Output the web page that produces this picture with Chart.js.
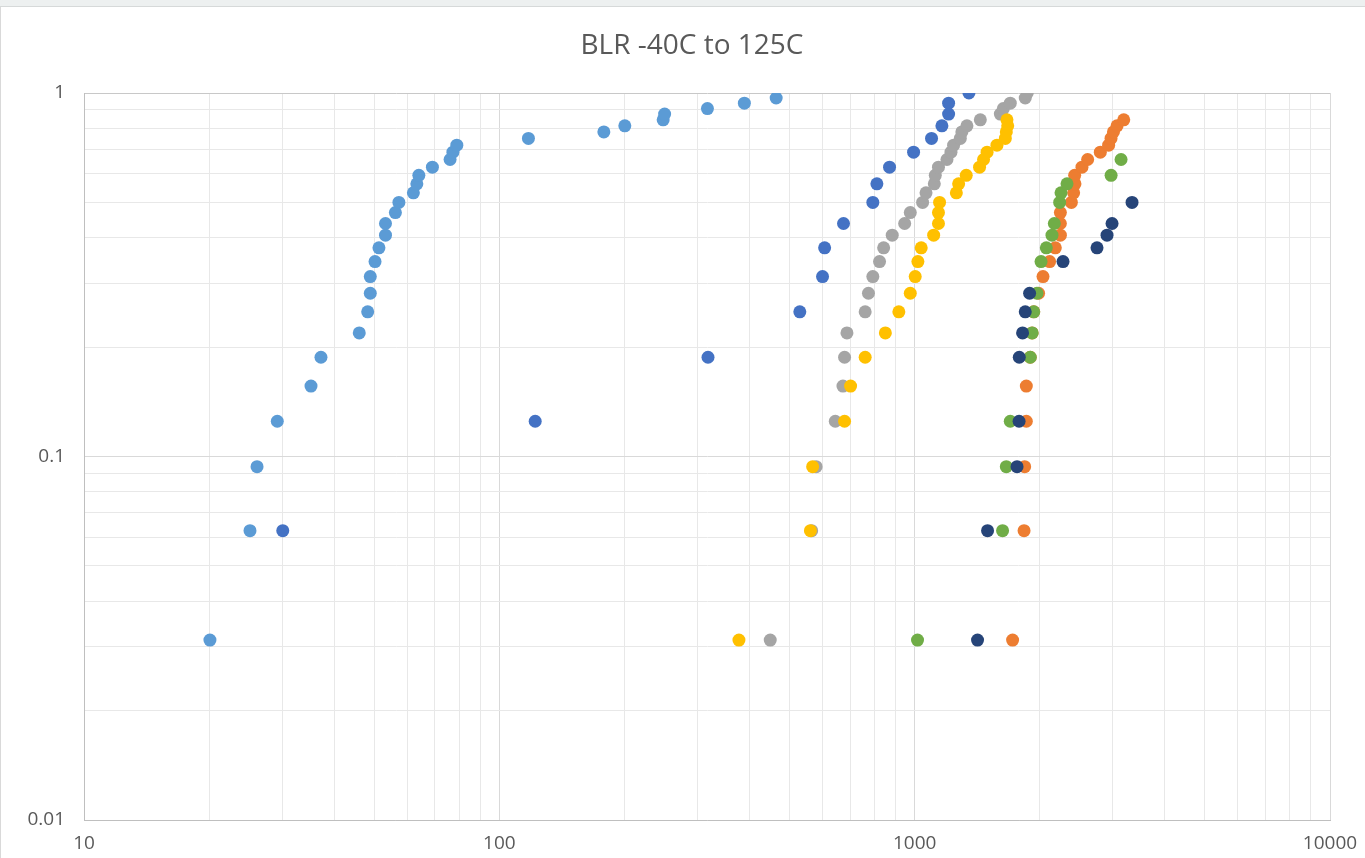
<!DOCTYPE html>
<html>
<head>
<meta charset="utf-8">
<script src="https://cdn.jsdelivr.net/npm/chart.js@4.4.1/dist/chart.umd.min.js"></script>
<style>
html,body{margin:0;padding:0;background:#ffffff;overflow:hidden;}
#wrap{position:absolute;left:0;top:0;width:1365px;height:858px;}
#topbar{position:absolute;left:0;top:0;width:1365px;height:6px;background:#edf0f0;border-bottom:1px solid #d6d9d9;}
#leftbar{position:absolute;left:0;top:7px;width:1px;height:851px;background:#d9d9d9;}
</style>
</head>
<body>
<div id="wrap"><canvas id="c"></canvas></div>
<div id="topbar"></div>
<div id="leftbar"></div>
<script>
// ---- text ----
const chartTitle = 'BLR -40C to 125C';

// ---- axis ticks ----
const xTickLabels = [10, 100, 1000, 10000];
const xMinorTicks = [20, 30, 40, 50, 60, 70, 80, 90, 200, 300, 400, 500, 600, 700, 800, 900, 2000, 3000, 4000, 5000, 6000, 7000, 8000, 9000];
const yTickLabels = [0.01, 0.1, 1];
const yMinorTicks = [0.02, 0.03, 0.04, 0.05, 0.06, 0.07, 0.08, 0.09, 0.2, 0.3, 0.4, 0.5, 0.6, 0.7, 0.8, 0.9];

// ---- series values (x = life, y = cumulative fraction failed) ----
const s1Name = 'Series 1';
const s1X = [30.1, 122, 318, 529, 600, 607, 674, 793, 811, 870, 994, 1098, 1163, 1207, 1207, 1351];
const s1Y = [0.0625, 0.125, 0.1875, 0.25, 0.3125, 0.375, 0.4375, 0.5, 0.5625, 0.625, 0.6875, 0.75, 0.8125, 0.875, 0.9375, 1];

const s2Name = 'Series 2';
const s2X = [1721, 1834, 1840, 1857, 1857, 1898, 1918, 1935, 1988, 2037, 2113, 2181, 2243, 2243, 2243, 2384, 2414, 2432, 2428, 2528, 2609, 2799, 2931, 2970, 3010, 3071, 3187];
const s2Y = [0.03125, 0.0625, 0.09375, 0.125, 0.15625, 0.1875, 0.21875, 0.25, 0.28125, 0.3125, 0.34375, 0.375, 0.40625, 0.4375, 0.46875, 0.5, 0.53125, 0.5625, 0.59375, 0.625, 0.65625, 0.6875, 0.71875, 0.75, 0.78125, 0.8125, 0.84375];

const s3Name = 'Series 3';
const s3X = [449, 565, 579, 644, 672, 678, 687, 760, 774, 793, 823, 842, 883, 946, 976, 1045, 1065, 1115, 1121, 1141, 1196, 1223, 1241, 1288, 1299, 1336, 1439, 1608, 1635, 1699, 1846, 1867];
const s3Y = [0.03125, 0.0625, 0.09375, 0.125, 0.15625, 0.1875, 0.21875, 0.25, 0.28125, 0.3125, 0.34375, 0.375, 0.40625, 0.4375, 0.46875, 0.5, 0.53125, 0.5625, 0.59375, 0.625, 0.65625, 0.6875, 0.71875, 0.75, 0.78125, 0.8125, 0.84375, 0.875, 0.90625, 0.9375, 0.96875, 1];

const s4Name = 'Series 4';
const s4X = [377.5, 561, 568, 678, 701, 760, 850, 916, 976, 1003, 1018, 1037, 1111, 1141, 1141, 1148, 1260, 1276, 1331, 1433, 1465, 1494, 1578, 1653, 1662, 1675, 1668];
const s4Y = [0.03125, 0.0625, 0.09375, 0.125, 0.15625, 0.1875, 0.21875, 0.25, 0.28125, 0.3125, 0.34375, 0.375, 0.40625, 0.4375, 0.46875, 0.5, 0.53125, 0.5625, 0.59375, 0.625, 0.65625, 0.6875, 0.71875, 0.75, 0.78125, 0.8125, 0.84375];

const s5Name = 'Series 5';
const s5X = [20.1, 25.1, 26.1, 29.2, 35.2, 37.2, 46.0, 48.2, 48.9, 48.9, 50.2, 51.3, 53.2, 53.2, 56.2, 57.3, 62.1, 63.3, 64.0, 69.0, 76.1, 77.3, 79.0, 117.5, 178.5, 200.5, 248, 250, 317, 389, 464];
const s5Y = [0.03125, 0.0625, 0.09375, 0.125, 0.15625, 0.1875, 0.21875, 0.25, 0.28125, 0.3125, 0.34375, 0.375, 0.40625, 0.4375, 0.46875, 0.5, 0.53125, 0.5625, 0.59375, 0.625, 0.65625, 0.6875, 0.71875, 0.75, 0.78125, 0.8125, 0.84375, 0.875, 0.90625, 0.9375, 0.96875];

const s6Name = 'Series 6';
const s6X = [1016, 1628, 1662, 1699, 1898, 1918, 1935, 1970, 2015, 2075, 2141, 2169, 2234, 2251, 2327, 2971, 3140];
const s6Y = [0.03125, 0.0625, 0.09375, 0.125, 0.1875, 0.21875, 0.25, 0.28125, 0.34375, 0.375, 0.40625, 0.4375, 0.5, 0.53125, 0.5625, 0.59375, 0.65625];

const s7Name = 'Series 7';
const s7X = [1417, 1498, 1764, 1784, 1786, 1819, 1846, 1891, 2276, 2748, 2905, 2987, 3337];
const s7Y = [0.03125, 0.0625, 0.09375, 0.125, 0.1875, 0.21875, 0.25, 0.28125, 0.34375, 0.375, 0.40625, 0.4375, 0.5];

// ---- styling ----
const FONT = '"Open Sans", "Liberation Sans", Arial, sans-serif';
const TEXT_COLOR = '#595959';
const seriesDefs = [
  {name: s1Name, xs: s1X, ys: s1Y, color: '#4472C4'},
  {name: s2Name, xs: s2X, ys: s2Y, color: '#ED7D31'},
  {name: s3Name, xs: s3X, ys: s3Y, color: '#A5A5A5'},
  {name: s4Name, xs: s4X, ys: s4Y, color: '#FFC000'},
  {name: s5Name, xs: s5X, ys: s5Y, color: '#5B9BD5'},
  {name: s6Name, xs: s6X, ys: s6Y, color: '#70AD47'},
  {name: s7Name, xs: s7X, ys: s7Y, color: '#264478'}
];

const datasets = seriesDefs.map((s, i) => ({
  label: s.name,
  data: s.xs.map((x, j) => ({x: x, y: s.ys[j]})),
  backgroundColor: s.color,
  borderColor: s.color,
  pointRadius: 6.5,
  pointBorderWidth: 0,
  pointHoverRadius: 6.5,
  showLine: false,
  order: -i
}));

const xAllTicks = xTickLabels.concat(xMinorTicks).sort((a, b) => a - b);
const yAllTicks = yTickLabels.concat(yMinorTicks).sort((a, b) => a - b);

Chart.defaults.font.family = FONT;

// chart title drawn as canvas text, centred where the reference places it
const titlePlugin = {
  id: 'centredTitle',
  afterDraw(chart) {
    const ctx = chart.ctx;
    ctx.save();
    ctx.font = '28px ' + FONT;
    ctx.fillStyle = TEXT_COLOR;
    ctx.textAlign = 'center';
    ctx.textBaseline = 'middle';
    ctx.fillText(chartTitle, 692, 46);
    ctx.restore();
  }
};

new Chart(document.getElementById('c'), {
  type: 'scatter',
  data: {datasets: datasets},
  plugins: [titlePlugin],
  options: {
    responsive: true,
    maintainAspectRatio: false,
    animation: false,
    events: [],
    layout: {padding: {top: 93, left: 0, right: 35, bottom: 0}},
    plugins: {
      legend: {display: false},
      tooltip: {enabled: false},
      title: {display: false}
    },
    scales: {
      x: {
        type: 'logarithmic',
        position: 'bottom',
        min: 10,
        max: 10000,
        afterBuildTicks: s => { s.ticks = xAllTicks.map(v => ({value: v})); },
        afterFit: s => { s.height = 38; s.paddingLeft = 0; s.paddingRight = 0; },
        ticks: {
          autoSkip: false,
          maxRotation: 0,
          minRotation: 0,
          padding: 12,
          color: TEXT_COLOR,
          font: {family: FONT, size: 19},
          callback: v => xTickLabels.includes(v) ? String(v) : ''
        },
        grid: {
          drawTicks: false,
          lineWidth: 1,
          color: c => (c.tick && xTickLabels.includes(c.tick.value)) ? '#d9d9d9' : '#e8e8e8'
        },
        border: {display: true, color: '#bfbfbf', width: 1}
      },
      y: {
        type: 'logarithmic',
        position: 'left',
        min: 0.01,
        max: 1,
        afterBuildTicks: s => { s.ticks = yAllTicks.map(v => ({value: v})); },
        afterFit: s => { s.width = 84; s.paddingTop = 0; s.paddingBottom = 0; },
        ticks: {
          autoSkip: false,
          padding: 19,
          color: TEXT_COLOR,
          font: {family: FONT, size: 19},
          callback: v => yTickLabels.includes(v) ? String(v) : ''
        },
        grid: {
          drawTicks: false,
          lineWidth: 1,
          color: c => (c.tick && yTickLabels.includes(c.tick.value)) ? (c.tick.value === 1 ? '#c8c8c8' : '#d9d9d9') : '#e8e8e8'
        },
        border: {display: true, color: '#bfbfbf', width: 1}
      }
    }
  }
});
</script>
</body>
</html>
